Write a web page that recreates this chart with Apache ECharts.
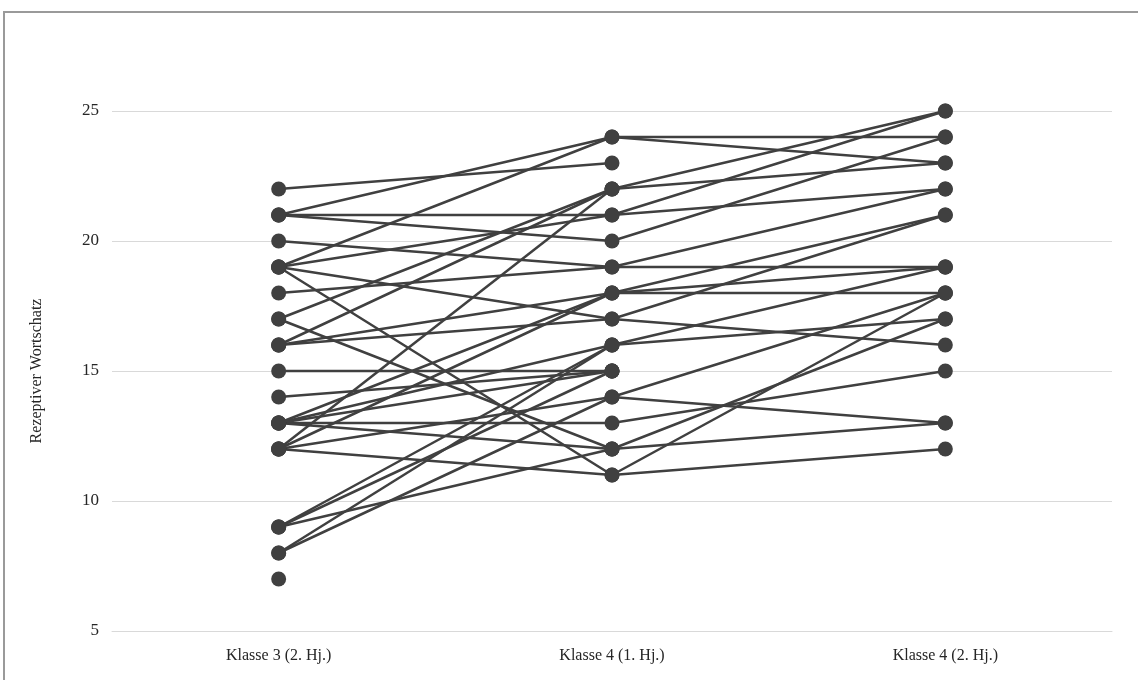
<!DOCTYPE html>
<html>
<head>
<meta charset="utf-8">
<script src="https://cdn.jsdelivr.net/npm/echarts@6/dist/echarts.min.js"></script>
<style>
  html, body { margin: 0; padding: 0; background: #fff; }
</style>
</head>
<body>
<div id="main" style="width: 1138px;height:680px;"></div>
<script>
// Messzeitpunkte
var categories = ['Klasse 3 (2. Hj.)', 'Klasse 4 (1. Hj.)', 'Klasse 4 (2. Hj.)'];
var yTicks = [5, 10, 15, 20, 25];

// je Kind ein Verlauf, gelesen aus der Abbildung (null = fehlt)
var t1 = [21, 19, 22, 17, 16, 12, 21, 19, 21, 20, 18, 16, 13, 12, 19, 16, 13, 9,  8,  15, 14, 13, 9,  12, 8,  13, 17, 13, 9,  19, 12, 7];
var t2 = [24, 24, 23, 22, 22, 22, 21, 21, 20, 19, 19, 18, 18, 18, 17, 17, 16, 16, 16, 15, 15, 15, 15, 14, 14, 13, 12, 12, 12, 11, 11, null];
var t3 = [24, 23, null, 25, 23, null, 25, 22, 24, 22, 19, 18, 19, 21, 21, 16, 19, 17, null, null, null, null, null, 18, 13, 15, 17, 13, null, 18, 12, null];

var myChart = echarts.init(document.getElementById('main'));

var series = [];
for (var i = 0; i < t1.length; i++) {
    series.push({
        type: 'line',
        data: [t1[i], t2[i], t3[i]],
        symbol: 'circle',
        symbolSize: 15,
        showAllSymbol: true,
        connectNulls: false,
        lineStyle: { color: '#404040', width: 2.5 },
        itemStyle: { color: '#404040' },
        emphasis: { disabled: true },
        silent: true,
        animation: false
    });
}

myChart.setOption({
    animation: false,
    textStyle: { fontFamily: 'Liberation Serif' },
    grid: { left: 112, right: 26, top: 111, bottom: 49 },
    graphic: [{
        type: 'rect',
        shape: { x: 4, y: 12, width: 1160, height: 700 },
        style: { fill: 'none', stroke: '#9a9a9a', lineWidth: 2 },
        z: -1
    }],
    xAxis: {
        type: 'category',
        data: categories,
        boundaryGap: true,
        axisLine: { show: true, lineStyle: { color: '#d9d9d9', width: 1 } },
        axisTick: { show: false },
        axisLabel: { color: '#262626', fontSize: 16, margin: 17, fontFamily: 'Liberation Serif' }
    },
    yAxis: {
        type: 'value',
        min: yTicks[0],
        max: yTicks[yTicks.length - 1],
        interval: 5,
        name: 'Rezeptiver Wortschatz',
        nameLocation: 'middle',
        nameGap: 67,
        nameRotate: 90,
        nameTextStyle: { color: '#262626', fontSize: 16, fontFamily: 'Liberation Serif' },
        axisLine: { show: false },
        axisTick: { show: false },
        axisLabel: { color: '#262626', fontSize: 17, margin: 13, fontFamily: 'Liberation Serif' },
        splitLine: { lineStyle: { color: '#d9d9d9', width: 1 } }
    },
    series: series
});
</script>
</body>
</html>
